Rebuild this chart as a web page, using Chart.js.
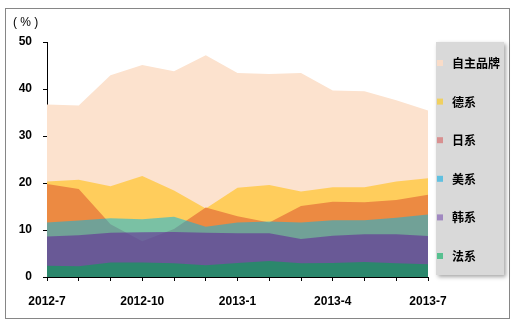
<!DOCTYPE html>
<html>
<head>
<meta charset="utf-8">
<script src="https://cdn.jsdelivr.net/npm/chart.js@4"></script>
<style>
  body { margin: 0; background: #fff; }
</style>
</head>
<body>
<canvas id="myChart" width="515" height="334"></canvas>
<script>
const months = ['2012-7', '2012-8', '2012-9', '2012-10', '2012-11', '2012-12', '2013-1',
                '2013-2', '2013-3', '2013-4', '2013-5', '2013-6', '2013-7'];
const seriesNames = ['自主品牌', '德系', '日系', '美系', '韩系', '法系'];

// market share, %
const ownBrand = [36.7, 36.5, 42.9, 45.1, 43.8, 47.2, 43.4, 43.2, 43.4, 39.7, 39.5, 37.6, 35.4];
const german   = [20.3, 20.7, 19.3, 21.5, 18.4, 14.6, 19.0, 19.6, 18.2, 19.1, 19.1, 20.3, 21.0];
const japanese = [19.8, 18.7, 11.2, 7.6, 10.2, 14.8, 12.9, 11.6, 15.1, 16.0, 15.9, 16.4, 17.5];
const american = [11.6, 12.0, 12.5, 12.3, 12.8, 10.7, 11.6, 11.8, 11.6, 12.1, 12.1, 12.6, 13.3];
const korean   = [8.6, 8.9, 9.4, 9.5, 9.6, 9.4, 9.3, 9.3, 8.1, 8.8, 9.1, 9.1, 8.7];
const french   = [2.4, 2.3, 3.1, 3.1, 2.9, 2.5, 3.0, 3.4, 2.9, 3.0, 3.2, 2.9, 2.7];
const yTicks = [0, 10, 20, 30, 40, 50];

const fillColors = ['rgb(252,226,206)', 'rgb(255,205,92)', 'rgb(236,138,66)',
                    'rgba(0,182,230,0.52)', 'rgba(100,45,150,0.62)', 'rgba(25,150,95,0.77)'];
const legendColors = ['#f9dcc8', '#f0d060', '#d89090', '#60c0e0', '#a088c0', '#58c090'];

const allSeries = [ownBrand, german, japanese, american, korean, french];

Chart.defaults.font.family = '"Liberation Sans", Arial, sans-serif';
Chart.defaults.color = '#000';

const framePlugin = {
  id: 'frame',
  beforeDraw(chart) {
    const c = chart.ctx;
    c.save();
    c.fillStyle = '#fff';
    c.fillRect(0, 0, chart.width, chart.height);
    c.strokeStyle = '#868686';
    c.lineWidth = 1;
    c.strokeRect(5.5, 8.5, 504, 310);
    c.restore();
  },
  afterDraw(chart) {
    const c = chart.ctx;
    c.save();
    c.fillStyle = '#000';
    c.font = '12px "Liberation Sans", Arial';
    c.textBaseline = 'middle';
    c.fillText('( % )', 13, 23);

    // legend box with shadow
    c.shadowColor = 'rgba(0,0,0,0.35)';
    c.shadowBlur = 4;
    c.shadowOffsetX = 2;
    c.shadowOffsetY = 2;
    c.fillStyle = '#d9d9d9';
    c.fillRect(436, 42, 68, 233);
    c.shadowColor = 'transparent';

    c.font = 'bold 12px "Noto Sans CJK SC"';
    seriesNames.forEach((name, i) => {
      const y = 63 + i * 38.6;
      c.fillStyle = legendColors[i];
      c.fillRect(437, y - 3, 6, 6);
      c.fillStyle = '#000';
      c.fillText(name, 452, y + 0.5);
    });
    c.restore();
  }
};

const ctx = document.getElementById('myChart').getContext('2d');

new Chart(ctx, {
  type: 'line',
  data: {
    labels: months,
    datasets: seriesNames.map((name, i) => ({
      label: name,
      data: allSeries[i],
      fill: 'origin',
      backgroundColor: fillColors[i],
      borderWidth: 0,
      pointRadius: 0,
      tension: 0,
      order: seriesNames.length - i
    }))
  },
  options: {
    responsive: false,
    animation: false,
    layout: { padding: { top: 42, right: 87, bottom: 27, left: 0 } },
    plugins: {
      legend: { display: false },
      tooltip: { enabled: false }
    },
    scales: {
      x: {
        offset: false,
        grid: { drawOnChartArea: false, tickLength: 4, color: '#000' },
        border: { color: '#000', width: 1 },
        ticks: {
          autoSkip: false,
          maxRotation: 0,
          padding: 13,
          font: { size: 12, weight: 'bold' },
          callback: function(value, index) {
            return index % 3 === 0 ? this.getLabelForValue(value) : '';
          }
        },
        afterFit(scale) { scale.height = 30; }
      },
      y: {
        min: 0,
        max: 50,
        grid: { drawOnChartArea: false, tickLength: 4, color: '#000' },
        border: { color: '#000', width: 1 },
        afterBuildTicks(scale) { scale.ticks = yTicks.map(v => ({ value: v })); },
        ticks: {
          padding: 11,
          font: { size: 12, weight: 'bold' }
        },
        afterFit(scale) { scale.width = 47; }
      }
    }
  },
  plugins: [framePlugin]
});
</script>
</body>
</html>
